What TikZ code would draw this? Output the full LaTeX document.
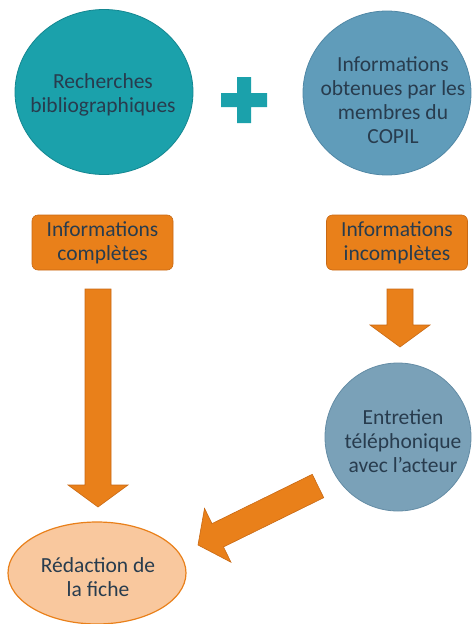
\documentclass[tikz,border=0pt]{standalone}
\usepackage{fontspec}
\setmainfont{Carlito}
\usetikzlibrary{calc,shapes.geometric}
\definecolor{teal1}{RGB}{27,161,171}
\definecolor{teal1d}{RGB}{20,135,145}
\definecolor{blue2}{RGB}{96,156,186}
\definecolor{blue2d}{RGB}{80,135,165}
\definecolor{blue3}{RGB}{122,161,184}
\definecolor{blue3d}{RGB}{100,140,165}
\definecolor{orng}{RGB}{233,128,26}
\definecolor{orngd}{RGB}{200,105,20}
\definecolor{peach}{RGB}{249,200,158}
\definecolor{txt}{RGB}{40,60,78}
\newcommand\blkarrow[2]{%
  \path (#1) coordinate (S) (#2) coordinate (E) ($(E)!22pt!(S)$) coordinate (H);
  \filldraw[barrow] ($(S)!13pt!90:(E)$) -- ($(H)!13pt!90:(E)$) -- ($(H)!30pt!90:(E)$) -- (E)
    -- ($(H)!30pt!-90:(E)$) -- ($(H)!13pt!-90:(E)$) -- ($(S)!13pt!-90:(E)$) -- cycle;}
\begin{document}
\begin{tikzpicture}[x=1pt,y=-1pt,
  every node/.style={text=txt,font=\fontsize{21.5}{23.8}\selectfont,align=center,inner sep=0pt},
  circ/.style={ellipse,line width=0.8pt},
  infobox/.style={rectangle,rounded corners=6pt,fill=orng,draw=orngd,line width=0.6pt,minimum width=141pt,minimum height=55pt},
  barrow/.style={fill=orng,draw=orngd,line width=0.6pt,line join=miter}]
\useasboundingbox (0,0) rectangle (472,624);
\node[circ,fill=teal1,draw=teal1d,minimum width=178pt,minimum height=165pt] (c1) at (104,92) {};
\node at (103,95) {Recherches\\bibliographiques};
\node[circ,fill=blue2,draw=blue2d,minimum width=168pt,minimum height=164pt] (c2) at (387,93) {};
\node at (393,100) {Informations\\obtenues par les\\membres du\\COPIL};
\fill[teal1] (221,93) rectangle (267,107) (237,77) rectangle (251,123);
\node[infobox] (b1) at (102.5,242.5) {Informations\\complètes};
\node[infobox] (b2) at (397,242.5) {Informations\\incomplètes};
\node[circ,fill=blue3,draw=blue3d,minimum width=146pt,minimum height=148pt] (c3) at (398,437) {};
\node at (403,441) {Entretien\\téléphonique\\avec l’acteur};
\node[circ,fill=peach,draw=orng,line width=1.2pt,minimum width=178pt,minimum height=102pt] (e1) at (97,573) {};
\node at (98,577) {Rédaction de\\la fiche};
\coordinate (a1s) at (98,289); \coordinate (a1e) at (98,507);
\coordinate (a2s) at (400,289); \coordinate (a2e) at (400,347);
\coordinate (a3s) at (318,486); \coordinate (a3e) at (198,545);
\blkarrow{a1s}{a1e}
\blkarrow{a2s}{a2e}
\blkarrow{a3s}{a3e}
\end{tikzpicture}
\end{document}
